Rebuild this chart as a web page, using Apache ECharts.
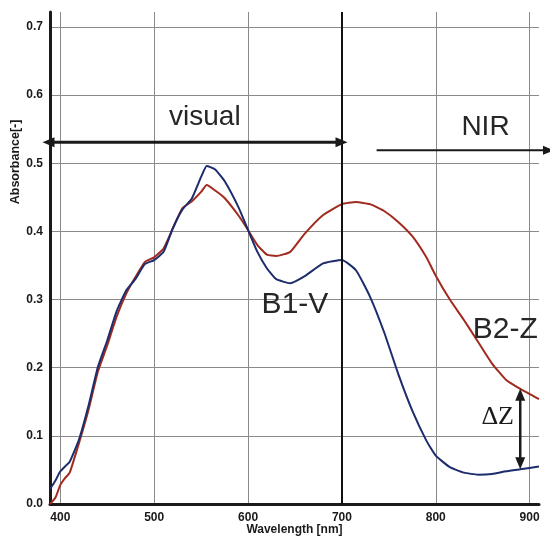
<!DOCTYPE html>
<html><head><meta charset="utf-8">
<script src="https://cdn.jsdelivr.net/npm/echarts@6/dist/echarts.min.js"></script>
<style>html,body{margin:0;padding:0;background:#fff}#c{width:550px;height:537px}</style>
</head><body><div id="c"></div>
<script>
// Data
const wavelengths = [389,395,400,405,410,420,430,440,450,460,470,480,490,500,510,520,530,540,550,556,565,575,590,600,610,620,630,645,660,680,700,715,730,745,760,775,790,800,815,830,845,860,875,890,910];
const b1v = [0.022,0.035,0.048,0.055,0.062,0.095,0.144,0.201,0.240,0.283,0.313,0.330,0.352,0.358,0.370,0.405,0.432,0.448,0.480,0.496,0.491,0.474,0.435,0.402,0.370,0.346,0.330,0.324,0.334,0.353,0.358,0.343,0.304,0.252,0.191,0.137,0.093,0.071,0.054,0.046,0.043,0.044,0.048,0.051,0.055];
const b2z = [0.000,0.010,0.028,0.038,0.046,0.090,0.138,0.194,0.233,0.275,0.308,0.333,0.355,0.362,0.375,0.405,0.434,0.444,0.458,0.468,0.460,0.449,0.423,0.402,0.380,0.366,0.364,0.370,0.396,0.424,0.440,0.443,0.440,0.430,0.414,0.393,0.362,0.335,0.300,0.270,0.238,0.206,0.182,0.169,0.154];
const seriesNames = ['B1-V','B2-Z'];
const xRange = [389, 910];
const yRange = [0, 0.722];
const regionBoundary = 700;
const deltaAt = 890;

const FONT = "'Liberation Sans', Arial, sans-serif";
const chart = echarts.init(document.getElementById('c'), null, {renderer:'canvas'});

const option = {
  animation: false,
  backgroundColor: '#ffffff',
  grid: {left: 50, right: 11, top: 12, bottom: 33, containLabel: false, outerBoundsMode: 'none'},
  xAxis: {
    type: 'value', min: xRange[0], max: xRange[1], splitNumber: 5,
    name: 'Wavelength [nm]', nameLocation: 'middle', nameGap: 20, nameMoveOverlap: false,
    nameTextStyle: {fontFamily: FONT, fontWeight: 'bold', fontSize: 12, color: '#1a1a1a', verticalAlign: 'top'},
    axisLine: {show: true, onZero: false, lineStyle: {color: '#1a1a1a', width: 3}},
    axisTick: {show: false},
    axisLabel: {showMinLabel: false, showMaxLabel: false, margin: 8, fontFamily: FONT, fontWeight: 'bold', fontSize: 12, color: '#1a1a1a'},
    splitLine: {show: true, showMinLine: false, showMaxLine: false, lineStyle: {color: '#8a8a8a', width: 1}}
  },
  yAxis: {
    type: 'value', min: yRange[0], max: yRange[1], interval: 0.1,
    axisLine: {show: true, lineStyle: {color: '#1a1a1a', width: 3}},
    axisTick: {show: false},
    axisLabel: {showMaxLabel: false, margin: 7, fontFamily: FONT, fontWeight: 'bold', fontSize: 12, color: '#1a1a1a',
      formatter: v => v.toFixed(1)},
    splitLine: {show: true, showMinLine: false, showMaxLine: false, lineStyle: {color: '#8a8a8a', width: 1}}
  },
  series: [
    {
      name: seriesNames[0], type: 'line', showSymbol: false, symbol: 'none', smooth: 0.15,
      data: wavelengths.map((w,i)=>[w, b1v[i]]),
      lineStyle: {color: '#1c2c6c', width: 2}, itemStyle: {color: '#1c2c6c'},
      z: 3,
      markLine: {silent: true, symbol: ['none','none'], label: {show: false},
        lineStyle: {color: '#111', width: 2, type: 'solid'},
        data: [{xAxis: regionBoundary}]}
    },
    {
      name: seriesNames[1], type: 'line', showSymbol: false, symbol: 'none', smooth: 0.15,
      data: wavelengths.map((w,i)=>[w, b2z[i]]),
      lineStyle: {color: '#a12a1e', width: 2}, itemStyle: {color: '#a12a1e'},
      z: 2
    }
  ]
};
chart.setOption(option);

const P = (x,y) => chart.convertToPixel({gridIndex: 0}, [x, y]);
const INK = '#1a1a1a';
function head(tip, dx, dy, len, half) {
  const n = Math.hypot(dx,dy); const ux = dx/n, uy = dy/n;
  const bx = tip[0]-ux*len, by = tip[1]-uy*len;
  return {type:'polygon', z: 100, shape:{points:[[tip[0],tip[1]],[bx-uy*half, by+ux*half],[bx+uy*half, by-ux*half]]}, style:{fill: INK}};
}
function line(a,b,w) {
  return {type:'line', z: 100, shape:{x1:a[0],y1:a[1],x2:b[0],y2:b[1]}, style:{stroke: INK, lineWidth: w}};
}
function text(str, p, size, family, color) {
  return {type:'text', z: 100, x: p[0], y: p[1],
    style:{text: str, fontSize: size, fontFamily: family || FONT, fill: color || '#262626', align:'center', verticalAlign:'middle'}};
}

const g = [];
// visual double arrow
const vA = P(381, 0.531), vB = P(706, 0.531);
g.push(line([vA[0]+8, vA[1]], [vB[0]-8, vB[1]], 3));
g.push(head(vA, -1, 0, 12, 5));
g.push(head(vB, 1, 0, 12, 5));
// NIR arrow
const nA = P(737, 0.519), nB = P(926, 0.519);
g.push(line(nA, [nB[0]-8, nB[1]], 2));
g.push(head(nB, 1, 0, 11, 4.5));
// Delta Z arrow
const iDelta = wavelengths.indexOf(deltaAt);
const dT = P(deltaAt, b2z[iDelta]), dB = P(deltaAt, b1v[iDelta]);
g.push(line([dT[0], dT[1]+8], [dB[0], dB[1]-8], 2.5));
g.push(head(dT, 0, -1, 12, 5));
g.push(head(dB, 0, 1, 12, 5));
// Texts
g.push(text('visual', P(554, 0.568), 28));
g.push(text('NIR', P(853, 0.553), 28));
g.push(text('B1-V', P(650, 0.292), 30));
g.push(text('B2-Z', P(874, 0.256), 30));
g.push(text('\u0394Z', P(866, 0.128), 26, "'Liberation Serif', 'Times New Roman', serif", INK));
const abs = P(xRange[0], 0.502);
g.push({type:'text', z:100, x: abs[0]-34, y: abs[1], rotation: Math.PI/2,
  style:{text:'Absorbance[-]', fontSize: 12.5, fontWeight:'bold', fontFamily: FONT, fill: INK, align:'center', verticalAlign:'middle'}});
chart.setOption({graphic: g});
</script>
</body></html>
